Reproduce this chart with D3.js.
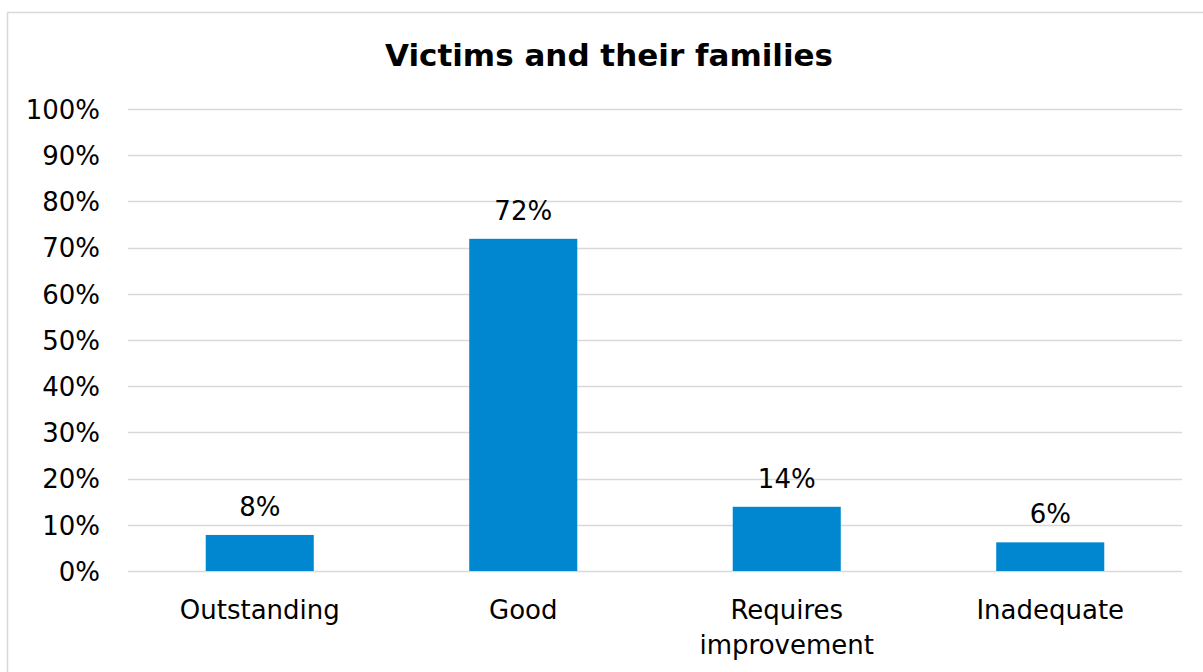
<!DOCTYPE html>
<html><head><meta charset="utf-8">
<script src="https://cdn.jsdelivr.net/npm/d3@7"></script>
<style>html,body{margin:0;padding:0;background:#fff;} svg{display:block;}</style>
</head><body>
<svg id="chart" width="1203" height="672"></svg>
<script>
const title = "Victims and their families";
const categories = ["Outstanding", "Good", "Requires improvement", "Inadequate"];
const values = [0.078, 0.719, 0.139, 0.062];
const tickValues = [0, 0.1, 0.2, 0.3, 0.4, 0.5, 0.6, 0.7, 0.8, 0.9, 1.0];

const W = 1203, H = 672;
const FONT = "'DejaVu Sans', Verdana, sans-serif";
const FS = 26;
const svg = d3.select("#chart");
const m = {left: 128, right: 21, top: 109, bottom: 101};

svg.append("rect").attr("x", 7.5).attr("y", 12.5).attr("width", W).attr("height", H)
  .attr("fill", "#fff").attr("stroke", "#d9d9d9").attr("stroke-width", 1.5);

const x = d3.scaleBand().domain(categories).range([m.left, W - m.right]).padding(0);
const y = d3.scaleLinear().domain([0, 1]).range([H - m.bottom, m.top]);

// gridlines
svg.append("g").selectAll("line").data(tickValues).join("line")
  .attr("x1", m.left).attr("x2", W - m.right)
  .attr("y1", d => Math.round(y(d)) + 0.5).attr("y2", d => Math.round(y(d)) + 0.5)
  .attr("stroke", "#d9d9d9").attr("stroke-width", 1.5);

// y axis labels
const yAxis = d3.axisLeft(y).tickValues(tickValues).tickFormat(d3.format(".0%")).tickSize(0).tickPadding(0);
const gy = svg.append("g").attr("transform", `translate(${100},0)`).call(yAxis);
gy.select(".domain").remove();
gy.selectAll("text").attr("font-family", FONT).attr("font-size", FS).attr("fill", "#000")
  .attr("dy", "0.36em");

// bars
const barW = x.bandwidth() * 0.41;
svg.append("g").selectAll("rect").data(values).join("rect")
  .attr("x", (d, i) => x(categories[i]) + x.bandwidth() / 2 - barW / 2)
  .attr("width", barW)
  .attr("y", d => y(d))
  .attr("height", d => y(0) - y(d))
  .attr("fill", "#0087cf");

// value labels
svg.append("g").selectAll("text").data(values).join("text")
  .attr("x", (d, i) => x(categories[i]) + x.bandwidth() / 2)
  .attr("y", d => y(d) - 19)
  .attr("text-anchor", "middle")
  .attr("font-family", FONT).attr("font-size", FS).attr("fill", "#000")
  .text(d => d3.format(".0%")(d));

// x axis labels (wrapped)
const xAxis = d3.axisBottom(x).tickSize(0).tickPadding(0);
const gx = svg.append("g").attr("transform", `translate(0,${y(0)})`).call(xAxis);
gx.select(".domain").remove();
gx.selectAll("text").each(function(d) {
  const t = d3.select(this);
  t.text(null).attr("font-family", FONT).attr("font-size", FS).attr("fill", "#000").attr("y", 0).attr("dy", null);
  const words = d === "Requires improvement" ? ["Requires", "improvement"] : [d];
  words.forEach((w, i) => t.append("tspan").attr("x", 0).attr("y", 48 + i * 35).text(w));
});

// title
svg.append("text").attr("x", 609).attr("y", 66).attr("text-anchor", "middle")
  .attr("font-family", FONT).attr("font-size", 31).attr("font-weight", "bold").attr("fill", "#000")
  .text(title);
</script>
</body></html>
